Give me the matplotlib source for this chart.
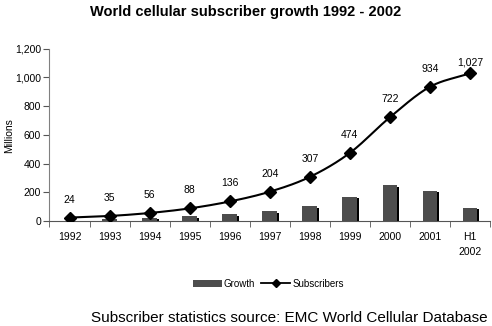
import numpy as np
import matplotlib.pyplot as plt

# Datos
years = ['1992', '1993', '1994', '1995', '1996', '1997', '1998', '1999', '2000', '2001', 'H1\n2002']
subscribers = [24, 35, 56, 88, 136, 204, 307, 474, 722, 934, 1027]
growth = [0, 11, 21, 32, 48, 68, 103, 167, 248, 212, 93]
labels = ['24', '35', '56', '88', '136', '204', '307', '474', '722', '934', '1,027']
label_offsets = [13, 13, 13, 13, 13, 13, 13, 13, 13, 13, 8]

plt.rcParams['font.family'] = ['Liberation Sans', 'DejaVu Sans']


def smooth(xs, ys, n=20):
    # curva suave tipo Catmull-Rom entre los puntos
    xs = np.asarray(xs, float)
    ys = np.asarray(ys, float)
    px = np.concatenate([[2 * xs[0] - xs[1]], xs, [2 * xs[-1] - xs[-2]]])
    py = np.concatenate([[2 * ys[0] - ys[1]], ys, [2 * ys[-1] - ys[-2]]])
    out_x, out_y = [], []
    t = np.linspace(0, 1, n, endpoint=False)
    for i in range(1, len(px) - 2):
        for arr, out in ((px, out_x), (py, out_y)):
            p0, p1, p2, p3 = arr[i - 1], arr[i], arr[i + 1], arr[i + 2]
            out.extend(0.5 * ((2 * p1) + (-p0 + p2) * t + (2 * p0 - 5 * p1 + 4 * p2 - p3) * t ** 2
                              + (-p0 + 3 * p1 - 3 * p2 + p3) * t ** 3))
    out_x.append(xs[-1])
    out_y.append(ys[-1])
    return np.array(out_x), np.array(out_y)


fig = plt.figure(figsize=(4.92, 3.26), dpi=100)
ax = fig.add_axes([0.1006, 0.322, 0.8954, 0.529])

x = np.arange(len(years))
w = 0.37

# sombra y barras
ax.bar(x + 0.05, np.maximum(np.array(growth) - 10, 0), width=w, color='black', zorder=2)
bars = ax.bar(x, growth, width=w, color='#4d4d4d', zorder=3)

sx, sy = smooth(x, subscribers)
ax.plot(sx, sy, color='black', lw=1.5, zorder=4)
ax.plot(x, subscribers, linestyle='none', marker='D', color='black', markersize=6.5, zorder=5)
line_handle, = ax.plot([], [], color='black', marker='D', markersize=4, lw=1.3)

for xi, yi, lab, off in zip(x, subscribers, labels, label_offsets):
    ax.annotate(lab, (xi, yi), xytext=(0, off), textcoords='offset points',
                ha='center', va='center', fontsize=7.5)

ax.set_xlim(-0.5, len(years) - 0.5)
ax.set_ylim(0, 1200)
ax.set_yticks(range(0, 1201, 200))
ax.set_yticklabels([f'{v:,}' for v in range(0, 1201, 200)], fontsize=7.5)
ax.set_xticks(x)
ax.set_xticklabels(years, fontsize=7.5, va='top', linespacing=1.6)
ax.set_xticks(np.arange(-0.5, len(years), 1), minor=True)
ax.tick_params(axis='x', which='major', length=0, pad=8)
ax.tick_params(axis='x', which='minor', length=4, color='#555555', direction='out')
ax.tick_params(axis='y', length=4, color='#555555', pad=2)

for s in ['top', 'right']:
    ax.spines[s].set_visible(False)
ax.spines['left'].set_color('#808080')
ax.spines['bottom'].set_color('#555555')

fig.text(0.018, 0.585, 'Millions', rotation=90, ha='center', va='center', fontsize=7.5)

fig.text(0.5, 0.963, 'World cellular subscriber growth 1992 - 2002', ha='center', va='center',
         fontsize=10.5, fontweight='bold')

fig.legend([bars, line_handle], ['Growth', 'Subscribers'], loc='center',
           bbox_to_anchor=(0.545, 0.13), ncol=2, frameon=False, fontsize=7,
           handlelength=3, handletextpad=0.2, columnspacing=0.6)

fig.text(0.992, 0.025, 'Subscriber statistics source: EMC World Cellular Database', ha='right',
         va='center', fontsize=11)

fig.savefig('out.png', dpi=100)
